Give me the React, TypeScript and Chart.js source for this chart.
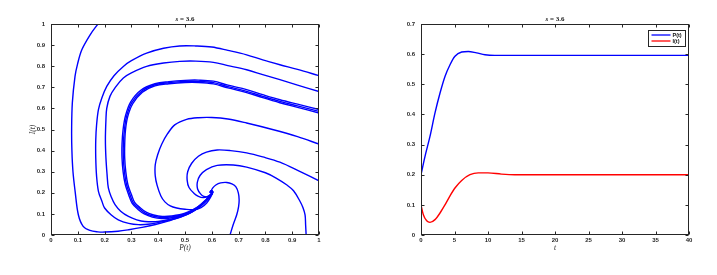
import React, { useEffect, useRef } from "react";
import { Chart, registerables } from "chart.js";
Chart.register(...registerables);

// ---------- Left panel: phase portrait (P, I) trajectories ----------
const orbitA: [number, number][] = [
  [0.175, 1.0], [0.146, 0.949], [0.115, 0.878], [0.099, 0.81], [0.0896, 0.752], [0.0796, 0.626],
  [0.077, 0.5], [0.078, 0.4], [0.082, 0.3], [0.09, 0.207], [0.102, 0.096], [0.12, 0.041],
  [0.145, 0.022], [0.175, 0.015], [0.2, 0.014], [0.25, 0.018], [0.29, 0.025], [0.34, 0.036],
  [0.39, 0.05], [0.44, 0.067], [0.49, 0.088], [0.53, 0.112], [0.565, 0.145], [0.59, 0.178],
  [0.603, 0.2], [0.598, 0.208], [0.594, 0.2],
];
const orbitB: [number, number][] = [
  [1.0, 0.755], [0.92, 0.785], [0.854, 0.807], [0.79, 0.83], [0.73, 0.854], [0.66, 0.875],
  [0.6, 0.891], [0.54, 0.896], [0.48, 0.896], [0.42, 0.885], [0.357, 0.862], [0.3, 0.826],
  [0.27, 0.799], [0.235, 0.755], [0.208, 0.704], [0.19, 0.65], [0.177, 0.594], [0.17, 0.52],
  [0.167, 0.45], [0.167, 0.365], [0.17, 0.28], [0.177, 0.207], [0.19, 0.16], [0.2, 0.128],
  [0.225, 0.095], [0.251, 0.072], [0.29, 0.055], [0.326, 0.049], [0.37, 0.052], [0.42, 0.064],
  [0.47, 0.08], [0.52, 0.105], [0.56, 0.14], [0.59, 0.18], [0.604, 0.203], [0.597, 0.209], [0.593, 0.2],
];
const orbitC: [number, number][] = [
  [1.0, 0.68], [0.92, 0.71], [0.854, 0.736], [0.79, 0.76], [0.73, 0.783], [0.66, 0.803],
  [0.606, 0.818], [0.54, 0.824], [0.481, 0.823], [0.42, 0.815], [0.357, 0.799], [0.3, 0.768],
  [0.27, 0.744], [0.24, 0.7], [0.22, 0.657], [0.208, 0.6], [0.205, 0.546], [0.203, 0.452],
  [0.205, 0.365], [0.209, 0.29], [0.214, 0.223], [0.225, 0.18], [0.239, 0.144], [0.26, 0.113],
  [0.289, 0.088], [0.32, 0.072], [0.35, 0.064], [0.4, 0.064], [0.45, 0.076], [0.5, 0.098],
  [0.545, 0.13], [0.58, 0.17], [0.6, 0.198], [0.6, 0.21], [0.592, 0.205],
];
const orbitD: [number, number][] = [
  [1.0, 0.595], [0.92, 0.62], [0.854, 0.641], [0.79, 0.665], [0.73, 0.689], [0.66, 0.71],
  [0.606, 0.729], [0.55, 0.734], [0.5, 0.733], [0.44, 0.727], [0.388, 0.717], [0.335, 0.686],
  [0.297, 0.63], [0.278, 0.565], [0.269, 0.5], [0.265, 0.43], [0.265, 0.365], [0.269, 0.3],
  [0.277, 0.24], [0.29, 0.19], [0.303, 0.15], [0.326, 0.12], [0.348, 0.1], [0.378, 0.085],
  [0.413, 0.078], [0.45, 0.082], [0.5, 0.096], [0.545, 0.124], [0.58, 0.162], [0.601, 0.194],
  [0.603, 0.207], [0.595, 0.207],
];
const orbitE: [number, number][] = [
  [1.0, 0.586], [0.92, 0.612], [0.854, 0.633], [0.79, 0.657], [0.73, 0.681], [0.66, 0.703],
  [0.606, 0.722], [0.55, 0.728], [0.5, 0.728], [0.44, 0.722], [0.388, 0.712], [0.338, 0.681],
  [0.301, 0.626], [0.282, 0.562], [0.274, 0.499], [0.27, 0.43], [0.27, 0.365], [0.274, 0.3],
  [0.282, 0.238], [0.295, 0.19], [0.307, 0.152], [0.33, 0.124], [0.351, 0.104], [0.38, 0.09],
  [0.413, 0.083], [0.45, 0.086], [0.5, 0.1], [0.545, 0.128], [0.58, 0.165], [0.6, 0.195],
  [0.602, 0.208], [0.594, 0.206],
];
const orbitF: [number, number][] = [
  [1.0, 0.578], [0.92, 0.605], [0.854, 0.627], [0.79, 0.651], [0.73, 0.675], [0.66, 0.697],
  [0.606, 0.716], [0.55, 0.723], [0.5, 0.723], [0.44, 0.717], [0.388, 0.707], [0.341, 0.677],
  [0.305, 0.622], [0.286, 0.56], [0.278, 0.498], [0.275, 0.43], [0.275, 0.365], [0.279, 0.3],
  [0.287, 0.238], [0.3, 0.192], [0.312, 0.155], [0.334, 0.128], [0.355, 0.108], [0.383, 0.095],
  [0.415, 0.088], [0.45, 0.09], [0.5, 0.103], [0.545, 0.131], [0.58, 0.168], [0.599, 0.196],
  [0.601, 0.208], [0.594, 0.205],
];
const orbitG: [number, number][] = [
  [1.0, 0.431], [0.92, 0.466], [0.83, 0.499], [0.73, 0.531], [0.66, 0.55], [0.6, 0.557],
  [0.55, 0.556], [0.506, 0.548], [0.463, 0.523], [0.435, 0.48], [0.413, 0.43], [0.398, 0.38],
  [0.389, 0.333], [0.389, 0.28], [0.396, 0.235], [0.41, 0.185], [0.425, 0.157], [0.445, 0.138],
  [0.469, 0.128], [0.5, 0.122], [0.531, 0.12], [0.56, 0.13], [0.581, 0.152], [0.595, 0.178],
  [0.601, 0.198], [0.596, 0.206], [0.593, 0.2],
];
const orbitH: [number, number][] = [
  [1.0, 0.257], [0.93, 0.3], [0.854, 0.345], [0.79, 0.37], [0.73, 0.389], [0.67, 0.4],
  [0.62, 0.403], [0.58, 0.393], [0.55, 0.373], [0.525, 0.34], [0.51, 0.3], [0.508, 0.26],
  [0.515, 0.225], [0.534, 0.197], [0.55, 0.183], [0.568, 0.177], [0.585, 0.183], [0.598, 0.196],
  [0.601, 0.205], [0.596, 0.207],
];
const orbitJ: [number, number][] = [
  [0.952, 0.0], [0.95, 0.05], [0.948, 0.095], [0.94, 0.13], [0.929, 0.16], [0.905, 0.21],
  [0.879, 0.238], [0.84, 0.27], [0.8, 0.295], [0.73, 0.322], [0.68, 0.332], [0.62, 0.33],
  [0.58, 0.31], [0.556, 0.282], [0.546, 0.25], [0.547, 0.218], [0.558, 0.195], [0.57, 0.183],
  [0.585, 0.182], [0.598, 0.193], [0.602, 0.203], [0.596, 0.207],
];
const orbitK: [number, number][] = [
  [0.668, 0.0], [0.68, 0.05], [0.693, 0.096], [0.7, 0.135], [0.702, 0.167], [0.699, 0.2],
  [0.69, 0.228], [0.675, 0.242], [0.656, 0.249], [0.633, 0.247], [0.615, 0.237], [0.603, 0.222],
  [0.598, 0.208], [0.6, 0.198],
];
const orbits = [orbitA, orbitB, orbitC, orbitD, orbitE, orbitF, orbitG, orbitH, orbitJ, orbitK];

// ---------- Right panel: time series ----------
const timeP = [0, 0.6, 1.34, 2.09, 2.84, 3.58, 4.33, 5.07, 6.07, 7.06, 8.3, 9.55, 11, 14, 20, 30, 40];
const valueP = [0.2, 0.261, 0.327, 0.405, 0.471, 0.526, 0.565, 0.593, 0.607, 0.609, 0.604, 0.598, 0.596, 0.596, 0.596, 0.596, 0.596];
const timeI = [0, 0.35, 0.85, 1.34, 2.09, 2.84, 3.58, 4.33, 5.07, 6.07, 7.31, 8.55, 10, 12, 14, 20, 30, 40];
const valueI = [0.1, 0.067, 0.047, 0.042, 0.051, 0.073, 0.1, 0.13, 0.156, 0.181, 0.2, 0.206, 0.206, 0.202, 0.2, 0.2, 0.2, 0.2];

const seriesLabels = ["P(t)", "I(t)"];
const panelTitle = { sym: "s", rest: " = 3.6" };

const AXIS = "#262626";
const TICK_FONT = { family: "'Liberation Sans', Arial, sans-serif", size: 6, weight: "bold" as const };
const LABEL_FONT = { family: "'Liberation Serif', 'Times New Roman', serif", size: 7.5, style: "italic" as const };

const fmt = (v: number | string) => String(Math.round(Number(v) * 10) / 10);

const boxPlugin = {
  id: "matlabBox",
  afterDraw(chart: any) {
    const { ctx, chartArea: a, scales } = chart;
    const xs = scales.x, ys = scales.y;
    const L = Math.round(a.left) + 0.5, R = Math.round(a.right) - 0.5;
    const T = Math.round(a.top) + 0.5, B = Math.round(a.bottom) - 0.5;
    ctx.save();
    ctx.strokeStyle = AXIS;
    ctx.lineWidth = 1;
    ctx.strokeRect(L, T, R - L, B - T);
    ctx.beginPath();
    const tl = 3;
    xs.ticks.forEach((t: any) => {
      const px = Math.round(xs.getPixelForValue(t.value)) + 0.5;
      ctx.moveTo(px, B); ctx.lineTo(px, B - tl);
      ctx.moveTo(px, T); ctx.lineTo(px, T + tl);
    });
    ys.ticks.forEach((t: any) => {
      const py = Math.round(ys.getPixelForValue(t.value)) + 0.5;
      ctx.moveTo(L, py); ctx.lineTo(L + tl, py);
      ctx.moveTo(R, py); ctx.lineTo(R - tl, py);
    });
    ctx.stroke();
    // title
    const cx = (a.left + a.right) / 2;
    const cy = a.top - 5;
    ctx.fillStyle = "#111";
    ctx.textBaseline = "middle";
    const f1 = "italic bold 7px 'Liberation Serif', serif";
    const f2 = "bold 7px 'Liberation Serif', serif";
    ctx.font = f1;
    const w1 = ctx.measureText(panelTitle.sym).width;
    ctx.font = f2;
    const w2 = ctx.measureText(panelTitle.rest).width;
    const x0 = cx - (w1 + w2) / 2;
    ctx.textAlign = "left";
    ctx.font = f1;
    ctx.fillText(panelTitle.sym, x0, cy);
    ctx.font = f2;
    ctx.fillText(panelTitle.rest, x0 + w1, cy);
    ctx.restore();
  },
};

const legendPlugin = {
  id: "boxLegend",
  afterDraw(chart: any) {
    const { ctx, chartArea: a } = chart;
    const w = 37, h = 16;
    const x = Math.round(a.right) - 4 - w + 0.5;
    const y = Math.round(a.top) + 6 + 0.5;
    ctx.save();
    ctx.fillStyle = "#fff";
    ctx.fillRect(x, y, w, h);
    ctx.strokeStyle = AXIS;
    ctx.lineWidth = 1;
    ctx.strokeRect(x, y, w, h);
    ctx.font = "bold 5.5px 'Liberation Sans', Arial, sans-serif";
    ctx.textBaseline = "middle";
    ctx.textAlign = "left";
    chart.data.datasets.forEach((ds: any, i: number) => {
      const ly = y + 4.5 + i * 6;
      ctx.strokeStyle = ds.borderColor;
      ctx.lineWidth = 1.3;
      ctx.beginPath();
      ctx.moveTo(x + 3, ly);
      ctx.lineTo(x + 22, ly);
      ctx.stroke();
      ctx.fillStyle = "#111";
      ctx.fillText(ds.label, x + 24, ly + 0.5);
    });
    ctx.restore();
  },
};

function axisCommon(min: number, max: number, step: number) {
  return {
    type: "linear" as const,
    min,
    max,
    ticks: {
      stepSize: step,
      font: TICK_FONT,
      color: AXIS,
      autoSkip: false,
      maxRotation: 0,
      callback: (v: any) => fmt(v),
    },
    grid: { display: false, drawTicks: false },
    border: { display: false },
  };
}

export default function App() {
  const leftRef = useRef<HTMLCanvasElement>(null);
  const rightRef = useRef<HTMLCanvasElement>(null);

  useEffect(() => {
    const left = new Chart(leftRef.current as HTMLCanvasElement, {
      type: "scatter",
      data: {
        datasets: orbits.map((o) => ({
          data: o.map(([x, y]) => ({ x, y })),
          showLine: true,
          borderColor: "#0000ff",
          borderWidth: 1.4,
          pointRadius: 0,
          tension: 0.35,
          fill: false,
        })),
      },
      options: {
        animation: false,
        responsive: false,
        maintainAspectRatio: false,
        events: [],
        layout: { padding: { top: 24, right: 41, left: 0, bottom: 0 } },
        plugins: { legend: { display: false }, tooltip: { enabled: false }, title: { display: false } },
        scales: {
          x: {
            ...axisCommon(0, 1, 0.1),
            ticks: { ...axisCommon(0, 1, 0.1).ticks, padding: 2 },
            title: { display: true, text: "P(t)", font: LABEL_FONT, color: AXIS, padding: { top: 0, bottom: 22 } },
            afterFit: (s: any) => { s.height = 40; },
          },
          y: {
            ...axisCommon(0, 1, 0.1),
            ticks: { ...axisCommon(0, 1, 0.1).ticks, padding: 6 },
            title: { display: true, text: "I(t)", font: LABEL_FONT, color: AXIS, padding: { top: 28.5, bottom: 0 } },
            afterFit: (s: any) => { s.width = 51; },
          },
        },
      } as any,
      plugins: [boxPlugin],
    });

    const right = new Chart(rightRef.current as HTMLCanvasElement, {
      type: "scatter",
      data: {
        datasets: [
          {
            label: seriesLabels[0],
            data: timeP.map((t, i) => ({ x: t, y: valueP[i] })),
            showLine: true,
            borderColor: "#0000ff",
            borderWidth: 1.4,
            pointRadius: 0,
            cubicInterpolationMode: "monotone",
            fill: false,
          },
          {
            label: seriesLabels[1],
            data: timeI.map((t, i) => ({ x: t, y: valueI[i] })),
            showLine: true,
            borderColor: "#ff0000",
            borderWidth: 1.4,
            pointRadius: 0,
            cubicInterpolationMode: "monotone",
            fill: false,
          },
        ],
      },
      options: {
        animation: false,
        responsive: false,
        maintainAspectRatio: false,
        events: [],
        layout: { padding: { top: 24, right: 28, left: 0, bottom: 0 } },
        plugins: { legend: { display: false }, tooltip: { enabled: false }, title: { display: false } },
        scales: {
          x: {
            ...axisCommon(0, 40, 5),
            ticks: { ...axisCommon(0, 40, 5).ticks, padding: 2, callback: (v: any) => String(v) },
            title: { display: true, text: "t", font: LABEL_FONT, color: AXIS, padding: { top: 0, bottom: 22 } },
            afterFit: (s: any) => { s.height = 40; },
          },
          y: {
            ...axisCommon(0, 0.7, 0.1),
            ticks: { ...axisCommon(0, 0.7, 0.1).ticks, padding: 6 },
            afterFit: (s: any) => { s.width = 61; },
          },
        },
      } as any,
      plugins: [boxPlugin, legendPlugin],
    });

    return () => {
      left.destroy();
      right.destroy();
    };
  }, []);

  return (
    <div style={{ position: "fixed", left: 0, top: 0, width: 717, height: 275, background: "#fff" }}>
      <canvas ref={leftRef} width={360} height={275} style={{ position: "absolute", left: 0, top: 0, width: 360, height: 275 }} />
      <canvas ref={rightRef} width={357} height={275} style={{ position: "absolute", left: 360, top: 0, width: 357, height: 275 }} />
    </div>
  );
}
